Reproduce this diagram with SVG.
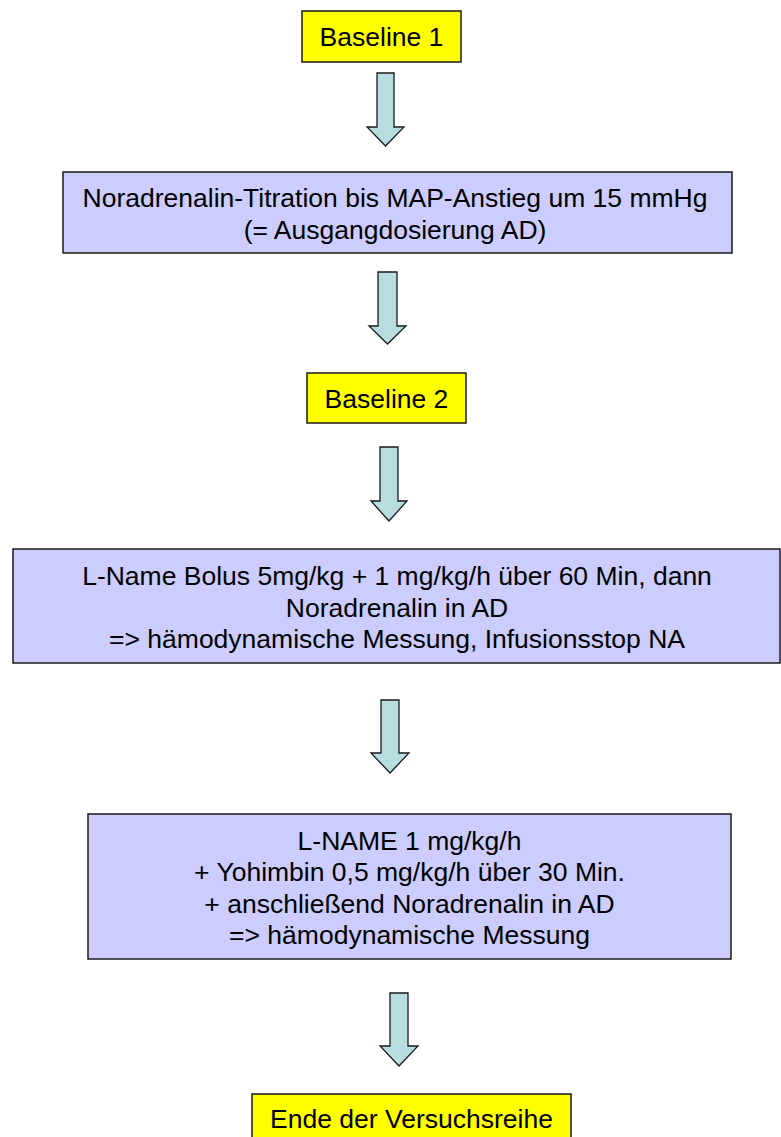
<svg xmlns="http://www.w3.org/2000/svg" width="781" height="1137" viewBox="0 0 781 1137">
  <defs>
    <style>
      .start { fill: #ffff00; stroke: #1a1a1a; stroke-width: 1.5; }
      .step { fill: #ccccff; stroke: #1a1a1a; stroke-width: 1.5; }
      .flow { fill: #b7dde1; stroke: #1a1a1a; stroke-width: 1.3; stroke-linejoin: miter; }
      text { font-family: "Liberation Sans", Arial, sans-serif; font-size: 26.5px; fill: #000; text-anchor: middle; }
    </style>
  </defs>
  <rect width="781" height="1137" fill="#ffffff"/>

  <g id="baseline1">
    <rect class="start" x="302" y="11" width="159" height="51"/>
    <text x="381.5" y="46">Baseline 1</text>
  </g>

  <g id="titration">
    <rect class="step" x="63" y="172" width="669" height="81"/>
    <text x="395" y="207">Noradrenalin-Titration bis MAP-Anstieg um 15 mmHg</text>
    <text x="395" y="239">(= Ausgangdosierung AD)</text>
  </g>

  <g id="baseline2">
    <rect class="start" x="307" y="373" width="159" height="50"/>
    <text x="386.5" y="408">Baseline 2</text>
  </g>

  <g id="lname-bolus">
    <rect class="step" x="13" y="549" width="767" height="114"/>
    <text x="397" y="585">L-Name Bolus 5mg/kg + 1 mg/kg/h über 60 Min, dann</text>
    <text x="397" y="616.5">Noradrenalin in AD</text>
    <text x="397" y="648">=&gt; hämodynamische Messung, Infusionsstop NA</text>
  </g>

  <g id="lname-yohimbin">
    <rect class="step" x="88" y="814" width="643" height="145"/>
    <text x="409.5" y="850">L-NAME 1 mg/kg/h</text>
    <text x="409.5" y="881">+ Yohimbin 0,5 mg/kg/h über 30 Min.</text>
    <text x="409.5" y="912.5">+ anschließend Noradrenalin in AD</text>
    <text x="409.5" y="944">=&gt; hämodynamische Messung</text>
  </g>

  <g id="ende">
    <rect class="start" x="252" y="1094" width="319" height="50"/>
    <text x="411.5" y="1128">Ende der Versuchsreihe</text>
  </g>

  <!-- block arrows between the steps -->
  <g id="connectors">
    <path class="flow" d="M377,73 H394 V127 H404 L385.5,146 L367,127 H377 Z"/>
    <path class="flow" d="M378,272 H397 V326 H406 L387.5,344 L369,326 H378 Z"/>
    <path class="flow" d="M380,447 H398 V501 H407 L389,521 L371,501 H380 Z"/>
    <path class="flow" d="M381,700 H399 V753 H409 L390,773 L371,753 H381 Z"/>
    <path class="flow" d="M390,993 H408 V1046 H418 L399,1066 L380,1046 H390 Z"/>
  </g>
</svg>
